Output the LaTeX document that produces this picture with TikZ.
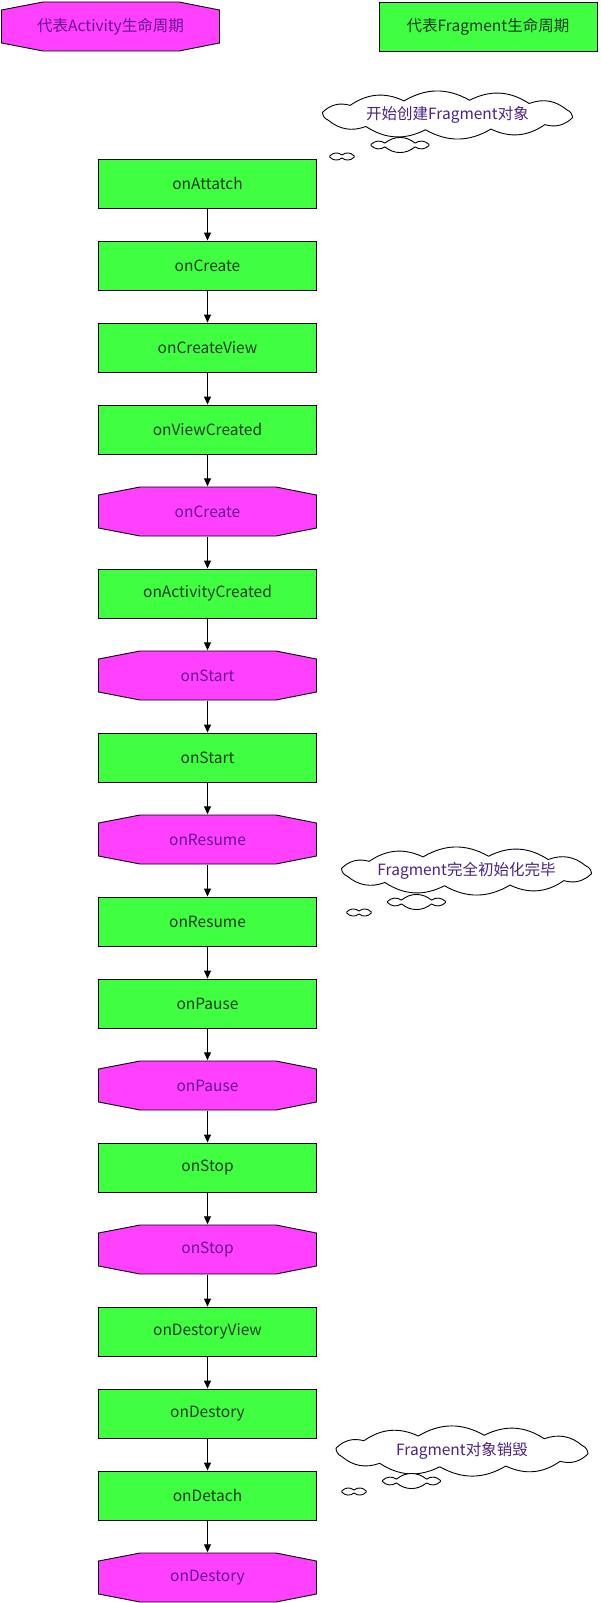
\documentclass[tikz,border=0pt]{standalone}
\usepackage{fontspec}
\setmainfont{Noto Sans CJK SC}
\usetikzlibrary{arrows.meta}
\definecolor{actFill}{RGB}{255,64,255}
\definecolor{fragFill}{RGB}{64,255,64}
\definecolor{actText}{RGB}{105,20,145}
\definecolor{fragText}{RGB}{28,58,36}
\definecolor{cloudText}{RGB}{75,35,130}
% cloud outline: centre x, centre y, semi-axis a, semi-axis b, bend, first angle, further angles (ending with first+360)
\newcommand\puffcloud[7]{%
  \filldraw[cloudline] ({#1+#3*cos(#6)},{#2+#4*sin(#6)})
    \foreach \ang in {#7} { to[bend left=#5] ({#1+#3*cos(\ang)},{#2+#4*sin(\ang)}) } -- cycle;}
\begin{document}
\begin{tikzpicture}[x=1pt,y=-1pt,
  lbl/.style={font=\fontsize{15.5}{18}\selectfont},
  frag/.style={lbl, rectangle, draw=black, line width=0.9pt, fill=fragFill,
    minimum width=218pt, minimum height=49pt, inner sep=0pt, text=fragText},
  act/.style={lbl, rectangle, minimum width=219pt, minimum height=50pt, inner sep=0pt, text=actText,
    path picture={\filldraw[fill=actFill,draw=black,line width=0.9pt]
      ([shift={(42pt,-0.5pt)}]path picture bounding box.north west) --
      ([shift={(-41pt,-0.5pt)}]path picture bounding box.north east) --
      ([shift={(-0.5pt,-8.5pt)}]path picture bounding box.north east) --
      ([shift={(-0.5pt,8.5pt)}]path picture bounding box.south east) --
      ([shift={(-41pt,0.5pt)}]path picture bounding box.south east) --
      ([shift={(42pt,0.5pt)}]path picture bounding box.south west) --
      ([shift={(0.5pt,8.5pt)}]path picture bounding box.south west) --
      ([shift={(0.5pt,-8.5pt)}]path picture bounding box.north west) -- cycle;}},
  flow/.style={draw=black, line width=1pt, -{Triangle[length=8pt,width=7pt]}},
  cloudline/.style={draw=black, fill=white, line width=0.9pt, line join=round},
  cloudtxt/.style={lbl, text=cloudText, inner sep=0pt}
]
\fill[white] (0,0) rectangle (600,1603);
\useasboundingbox (0,0) rectangle (600,1603);

% legend
\node[act] (legAct) at (110.5,26.5) {代表Activity生命周期};
\node[frag] (legFrag) at (488,26.5) {代表Fragment生命周期};

% main flow
\node[frag] (n0)  at (207.5,183.5)  {onAttatch};
\node[frag] (n1)  at (207.5,265.5)  {onCreate};
\node[frag] (n2)  at (207.5,347.5)  {onCreateView};
\node[frag] (n3)  at (207.5,429.5)  {onViewCreated};
\node[act]  (n4)  at (207.5,511.5)  {onCreate};
\node[frag] (n5)  at (207.5,593.5)  {onActivityCreated};
\node[act]  (n6)  at (207.5,675.5)  {onStart};
\node[frag] (n7)  at (207.5,757.5)  {onStart};
\node[act]  (n8)  at (207.5,839.5)  {onResume};
\node[frag] (n9)  at (207.5,921.5)  {onResume};
\node[frag] (n10) at (207.5,1003.5) {onPause};
\node[act]  (n11) at (207.5,1085.5) {onPause};
\node[frag] (n12) at (207.5,1167.5) {onStop};
\node[act]  (n13) at (207.5,1249.5) {onStop};
\node[frag] (n14) at (207.5,1331.5) {onDestoryView};
\node[frag] (n15) at (207.5,1413.5) {onDestory};
\node[frag] (n16) at (207.5,1495.5) {onDetach};
\node[act]  (n17) at (207.5,1577.5) {onDestory};

\foreach \i [evaluate=\i as \j using int(\i+1)] in {0,...,16}
  \draw[flow] (n\i) -- (n\j);

% clouds
\puffcloud{447.5}{115}{127}{15}{30}{10}{40,70,100,130,160,190,220,250,280,310,340,370}
\node[cloudtxt] (t1) at (447.5,115) {开始创建Fragment对象};
\puffcloud{400}{145}{30}{2.2}{40}{15}{60,120,165,195,240,300,345,375}
\puffcloud{342}{156.5}{13}{1.5}{45}{20}{90,160,200,270,340,380}

\puffcloud{466.5}{871}{127}{15}{30}{10}{40,70,100,130,160,190,220,250,280,310,340,370}
\node[cloudtxt] (t2) at (466.5,871) {Fragment完全初始化完毕};
\puffcloud{416.5}{902}{30}{2.2}{40}{15}{60,120,165,195,240,300,345,375}
\puffcloud{359}{912.5}{13}{1.5}{45}{20}{90,160,200,270,340,380}

\puffcloud{462}{1451}{128}{16}{30}{10}{40,70,100,130,160,190,220,250,280,310,340,370}
\node[cloudtxt] (t3) at (462,1451) {Fragment对象销毁};
\puffcloud{411.5}{1481}{30}{2.2}{40}{15}{60,120,165,195,240,300,345,375}
\puffcloud{354}{1491.5}{13}{1.5}{45}{20}{90,160,200,270,340,380}
\end{tikzpicture}
\end{document}
